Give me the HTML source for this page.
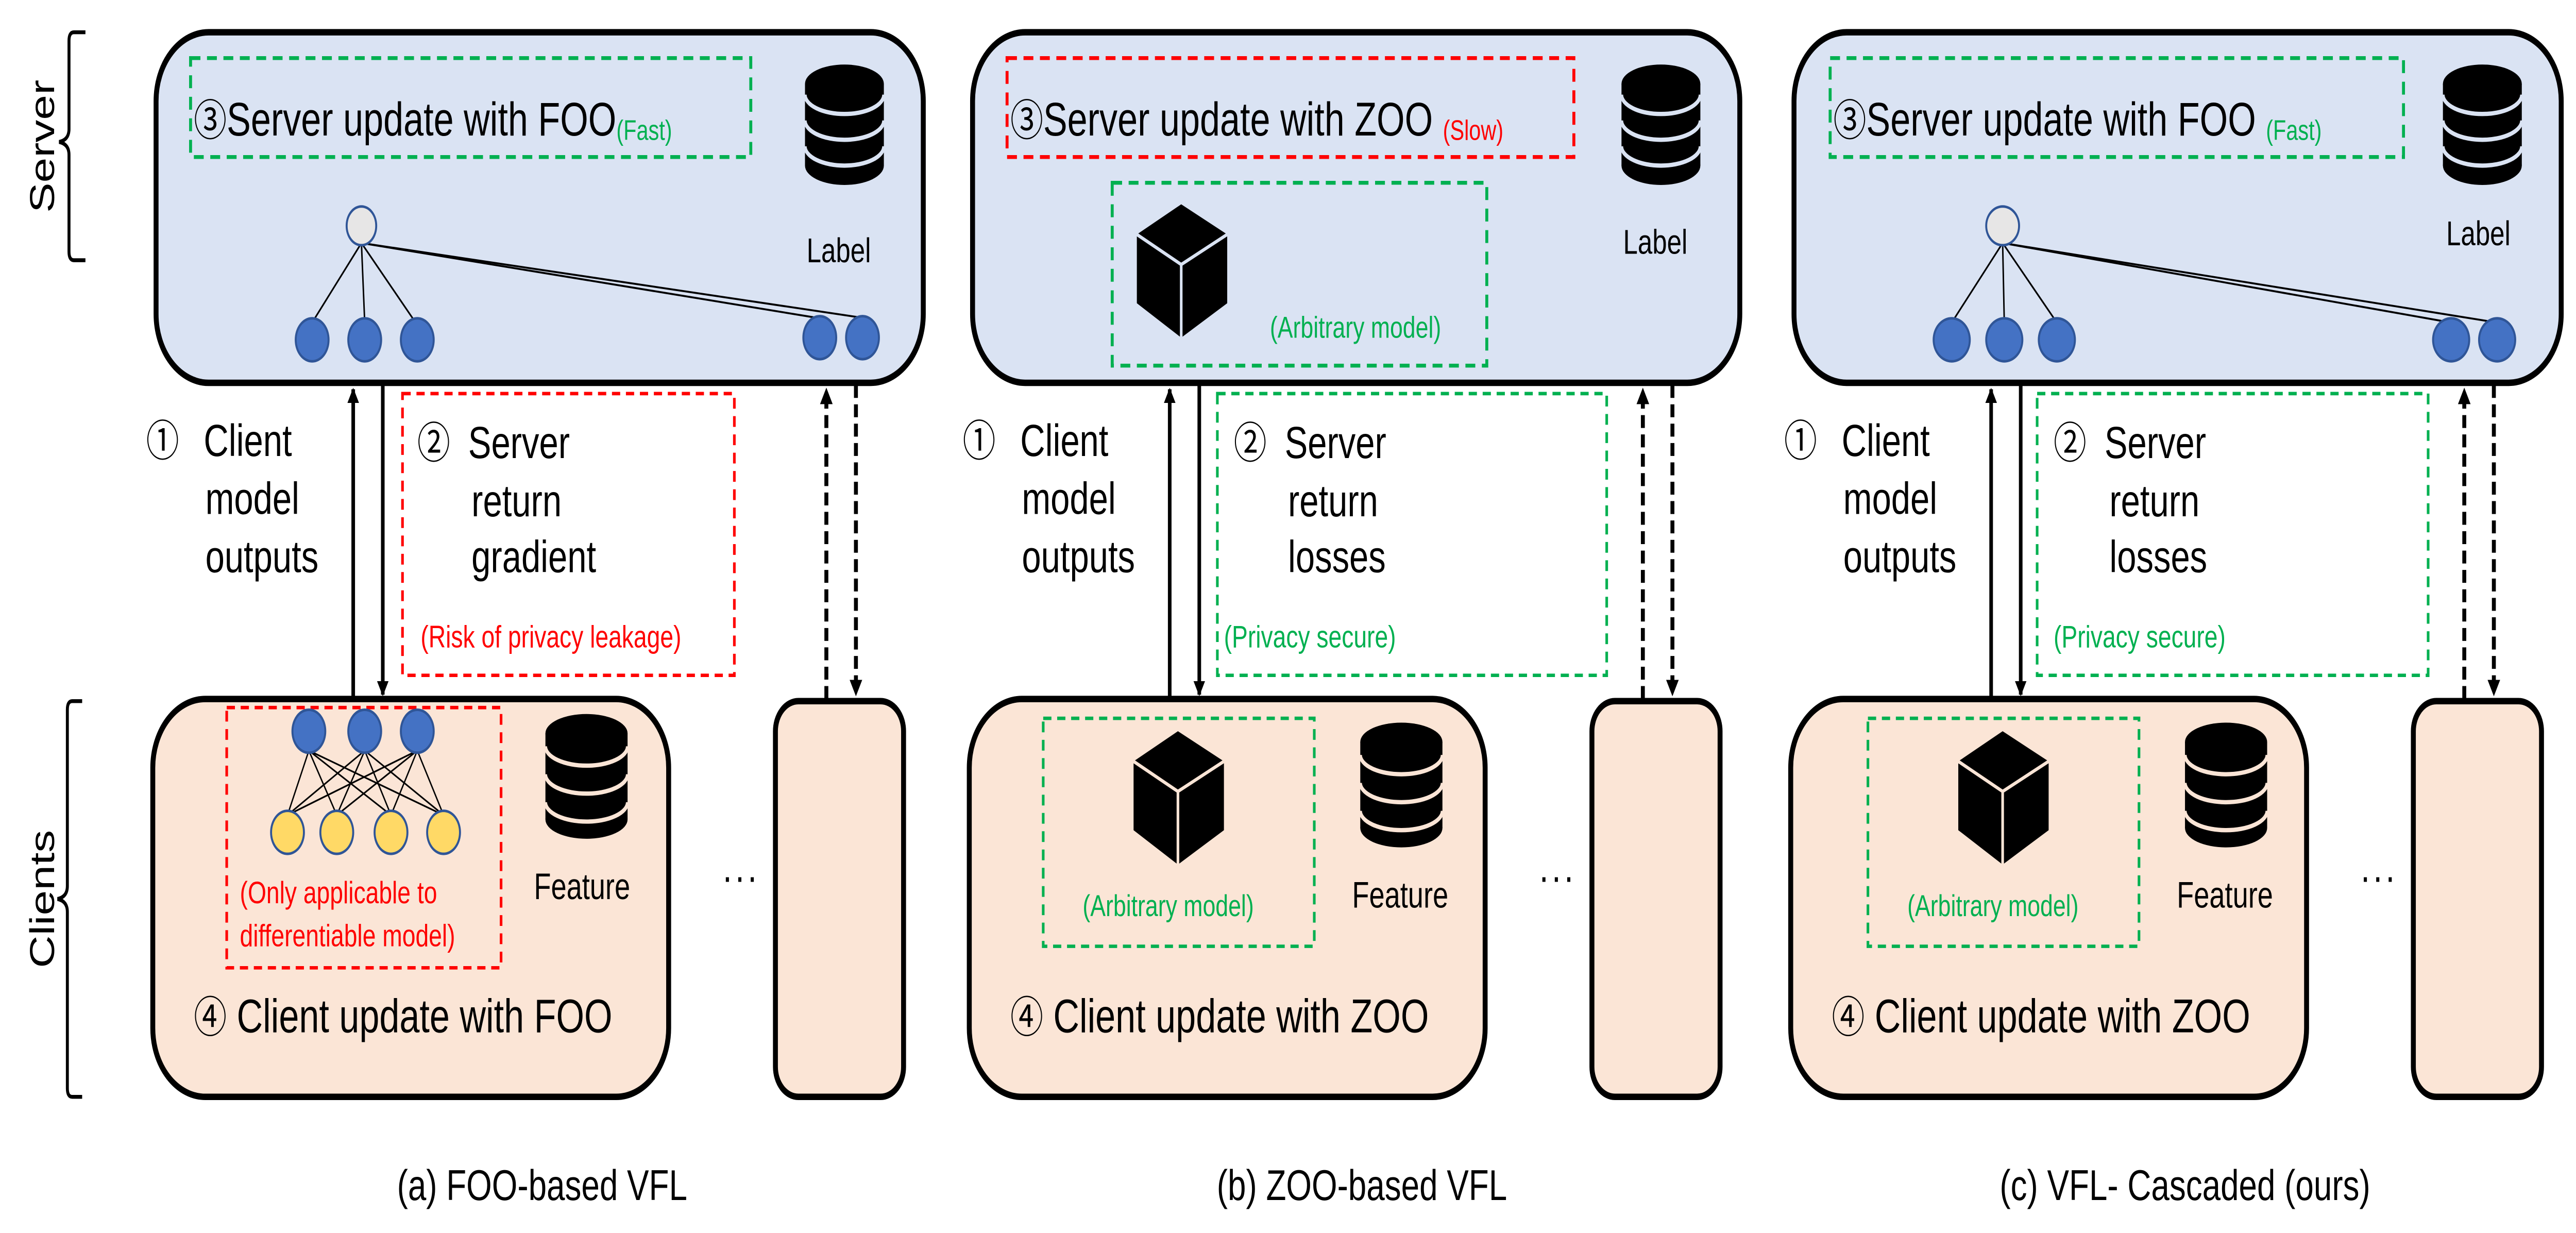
<!DOCTYPE html>
<html><head><meta charset="utf-8"><style>
html,body{margin:0;padding:0;background:#fff;width:100%;height:100%;overflow:hidden;}
svg{display:block;position:absolute;left:0;top:0;width:100vw;height:100vh;}
text{font-family:"Liberation Sans","Noto Sans CJK JP",sans-serif;}
.c{font-family:"Noto Sans CJK JP","DejaVu Sans",sans-serif;}
</style></head><body>
<svg xmlns="http://www.w3.org/2000/svg" viewBox="0 0 1568 573.3" preserveAspectRatio="none">
<defs>
<marker id="ah" viewBox="0 0 10 10" refX="9" refY="5" markerWidth="3.2" markerHeight="3.2" orient="auto-start-reverse"><path d="M0,0 L10,5 L0,10 z" fill="#000"/></marker>
<g id="dbL">
 <rect x="0" y="9" width="48" height="38" fill="#000"/>
 <ellipse cx="24" cy="47" rx="24" ry="9" fill="#000"/>
 <ellipse cx="24" cy="9" rx="24" ry="9" fill="#000"/>
 <path d="M0,14 A24,9 0 0 0 48,14" fill="none" stroke="#dae3f3" stroke-width="2"/>
 <path d="M0,26 A24,9 0 0 0 48,26" fill="none" stroke="#dae3f3" stroke-width="2"/>
 <path d="M0,38 A24,9 0 0 0 48,38" fill="none" stroke="#dae3f3" stroke-width="2"/>
</g>
<g id="dbF">
 <rect x="0" y="9" width="50" height="40" fill="#000"/>
 <ellipse cx="25" cy="49" rx="25" ry="9" fill="#000"/>
 <ellipse cx="25" cy="9" rx="25" ry="9" fill="#000"/>
 <path d="M0,15 A25,9 0 0 0 50,15" fill="none" stroke="#fbe5d6" stroke-width="2"/>
 <path d="M0,28 A25,9 0 0 0 50,28" fill="none" stroke="#fbe5d6" stroke-width="2"/>
 <path d="M0,41 A25,9 0 0 0 50,41" fill="none" stroke="#fbe5d6" stroke-width="2"/>
</g>
<g id="cubeS">
 <path d="M27,0 L55,14 L55,46 L27,62 L0,46 L0,14 z" fill="#000"/>
 <path d="M0,14 L27,28 L55,14 M27,28 L27,62" stroke="#dae3f3" stroke-width="1.6" fill="none"/>
</g>
<g id="cubeC">
 <path d="M27,0 L55,14 L55,46 L27,62 L0,46 L0,14 z" fill="#000"/>
 <path d="M0,14 L27,28 L55,14 M27,28 L27,62" stroke="#fbe5d6" stroke-width="1.6" fill="none"/>
</g>
<g id="common">
 <rect x="95" y="15" width="467" height="163" rx="32" fill="#dae3f3" stroke="#000" stroke-width="3"/>
 <rect x="93" y="325" width="314" height="185" rx="32" fill="#fbe5d6" stroke="#000" stroke-width="3"/>
 <rect x="472" y="326" width="78" height="184" rx="14" fill="#fbe5d6" stroke="#000" stroke-width="3"/>
 <line x1="215" y1="325" x2="215" y2="181" stroke="#000" stroke-width="2.2" marker-end="url(#ah)"/>
 <line x1="233" y1="179" x2="233" y2="323" stroke="#000" stroke-width="2.2" marker-end="url(#ah)"/>
 <line x1="503" y1="325" x2="503" y2="181" stroke="#000" stroke-width="2.4" stroke-dasharray="6,3" marker-end="url(#ah)"/>
 <line x1="521" y1="179" x2="521" y2="323" stroke="#000" stroke-width="2.4" stroke-dasharray="6,3" marker-end="url(#ah)"/>
 <text x="89" y="212" font-size="20" class="c">①</text>
 <text x="124" y="212" font-size="21">Client</text>
 <text x="125" y="239" font-size="21">model</text>
 <text x="125" y="266" font-size="21">outputs</text>
 <text x="440" y="410" font-size="20" letter-spacing="2">...</text>
</g>
</defs>

<path d="M52,15 L45,15 Q42,15 42,19 L42,60 Q42,65 36,66 Q42,67 42,72 L42,117 Q42,121 45,121 L52,121" fill="none" stroke="#000" stroke-width="1.8"/>
<text transform="translate(33,68) rotate(-90)" font-size="21" text-anchor="middle">Server</text>
<path d="M50,326 L44,326 Q41,326 41,330 L41,412 Q41,417 35,418 Q41,419 41,424 L41,506 Q41,510 44,510 L50,510" fill="none" stroke="#000" stroke-width="1.8"/>
<text transform="translate(33,418) rotate(-90)" font-size="21" text-anchor="middle">Clients</text>

<!-- Panel A -->
<use href="#common"/>
<rect x="116" y="27" width="341" height="46" fill="none" stroke="#00b050" stroke-width="1.8" stroke-dasharray="6,4"/>
<text x="118" y="63" font-size="22"><tspan class="c" font-size="20">③</tspan>Server update with FOO<tspan font-size="13" fill="#00b050" dy="2">(Fast)</tspan></text>
<use href="#dbL" x="490" y="30"/>
<text x="491" y="122" font-size="16">Label</text>
<g stroke="#000" stroke-width="0.9">
 <line x1="220" y1="113" x2="190" y2="150"/><line x1="220" y1="113" x2="222" y2="150"/><line x1="220" y1="113" x2="253" y2="150"/>
 <line x1="220" y1="113" x2="499" y2="148"/><line x1="220" y1="113" x2="527" y2="148"/>
</g>
<ellipse cx="220" cy="105" rx="9" ry="9" fill="#e7e6e6" stroke="#2f5597" stroke-width="1.2"/>
<g fill="#4472c4" stroke="#2f5597" stroke-width="1.2">
 <ellipse cx="190" cy="158" rx="10" ry="10"/><ellipse cx="222" cy="158" rx="10" ry="10"/><ellipse cx="254" cy="158" rx="10" ry="10"/>
 <ellipse cx="499" cy="157" rx="10" ry="10"/><ellipse cx="525" cy="157" rx="10" ry="10"/>
</g>
<rect x="245" y="183" width="202" height="131" fill="none" stroke="#ff0000" stroke-width="1.6" stroke-dasharray="5,3.5"/>
<text x="254" y="213" font-size="20" class="c">②</text>
<text x="285" y="213" font-size="21">Server</text>
<text x="287" y="240" font-size="21">return</text>
<text x="287" y="266" font-size="21">gradient</text>
<text x="256" y="301" font-size="14.5" fill="#ff0000">(Risk of privacy leakage)</text>
<rect x="138" y="329" width="167" height="121" fill="none" stroke="#ff0000" stroke-width="1.6" stroke-dasharray="5,3.5"/>
<g stroke="#000" stroke-width="0.8">
 <line x1="188" y1="349" x2="175" y2="379"/><line x1="188" y1="349" x2="205" y2="379"/><line x1="188" y1="349" x2="238" y2="379"/><line x1="188" y1="349" x2="270" y2="379"/>
 <line x1="222" y1="349" x2="175" y2="379"/><line x1="222" y1="349" x2="205" y2="379"/><line x1="222" y1="349" x2="238" y2="379"/><line x1="222" y1="349" x2="270" y2="379"/>
 <line x1="254" y1="349" x2="175" y2="379"/><line x1="254" y1="349" x2="205" y2="379"/><line x1="254" y1="349" x2="238" y2="379"/><line x1="254" y1="349" x2="270" y2="379"/>
</g>
<g fill="#4472c4" stroke="#2f5597" stroke-width="1.2">
 <ellipse cx="188" cy="340" rx="10" ry="10"/><ellipse cx="222" cy="340" rx="10" ry="10"/><ellipse cx="254" cy="340" rx="10" ry="10"/>
</g>
<g fill="#ffd966" stroke="#2f5597" stroke-width="1.2">
 <ellipse cx="175" cy="387" rx="10" ry="10"/><ellipse cx="205" cy="387" rx="10" ry="10"/><ellipse cx="238" cy="387" rx="10" ry="10"/><ellipse cx="270" cy="387" rx="10" ry="10"/>
</g>
<text x="146" y="420" font-size="14.5" fill="#ff0000">(Only applicable to</text>
<text x="146" y="440" font-size="14.5" fill="#ff0000">differentiable model)</text>
<use href="#dbF" x="332" y="332"/>
<text x="325" y="418" font-size="17">Feature</text>
<text x="118" y="480" font-size="22"><tspan class="c" font-size="20">④</tspan> Client update with FOO</text>
<text x="330" y="558" font-size="20" text-anchor="middle">(a) FOO-based VFL</text>

<!-- Panel B -->
<g transform="translate(497,0)">
<use href="#common"/>
<rect x="116" y="27" width="345" height="46" fill="none" stroke="#ff0000" stroke-width="1.8" stroke-dasharray="6,4"/>
<text x="118" y="63" font-size="22"><tspan class="c" font-size="20">③</tspan>Server update with ZOO <tspan font-size="13" fill="#ff0000" dy="2">(Slow)</tspan></text>
<rect x="180" y="85" width="228" height="85" fill="none" stroke="#00b050" stroke-width="1.8" stroke-dasharray="6,4"/>
<use href="#cubeS" x="195" y="95"/>
<text x="276" y="157" font-size="14" fill="#00b050">(Arbitrary model)</text>
<use href="#dbL" x="490" y="30"/>
<text x="491" y="118" font-size="16">Label</text>
<rect x="244" y="183" width="237" height="131" fill="none" stroke="#00b050" stroke-width="1.6" stroke-dasharray="5,3.5"/>
<text x="254" y="213" font-size="20" class="c">②</text>
<text x="285" y="213" font-size="21">Server</text>
<text x="287" y="240" font-size="21">return</text>
<text x="287" y="266" font-size="21">losses</text>
<text x="248" y="301" font-size="14.5" fill="#00b050">(Privacy secure)</text>
<rect x="138" y="334" width="165" height="106" fill="none" stroke="#00b050" stroke-width="1.6" stroke-dasharray="5,3.5"/>
<use href="#cubeC" x="193" y="340"/>
<text x="162" y="426" font-size="14" fill="#00b050">(Arbitrary model)</text>
<use href="#dbF" x="331" y="336"/>
<text x="326" y="422" font-size="17">Feature</text>
<text x="118" y="480" font-size="22"><tspan class="c" font-size="20">④</tspan> Client update with ZOO</text>
<text x="332" y="558" font-size="20" text-anchor="middle">(b) ZOO-based VFL</text>
</g>

<!-- Panel C -->
<g transform="translate(997,0)">
<use href="#common"/>
<rect x="117" y="27" width="349" height="46" fill="none" stroke="#00b050" stroke-width="1.8" stroke-dasharray="6,4"/>
<text x="119" y="63" font-size="22"><tspan class="c" font-size="20">③</tspan>Server update with FOO <tspan font-size="13" fill="#00b050" dy="2">(Fast)</tspan></text>
<use href="#dbL" x="490" y="30"/>
<text x="492" y="114" font-size="16">Label</text>
<g stroke="#000" stroke-width="0.9">
 <line x1="222" y1="113" x2="191" y2="150"/><line x1="222" y1="113" x2="223" y2="150"/><line x1="222" y1="113" x2="255" y2="150"/>
 <line x1="222" y1="113" x2="495" y2="150"/><line x1="222" y1="113" x2="523" y2="150"/>
</g>
<ellipse cx="222" cy="105" rx="10" ry="9" fill="#e7e6e6" stroke="#2f5597" stroke-width="1.2"/>
<g fill="#4472c4" stroke="#2f5597" stroke-width="1.2">
 <ellipse cx="191" cy="158" rx="11" ry="10"/><ellipse cx="223" cy="158" rx="11" ry="10"/><ellipse cx="255" cy="158" rx="11" ry="10"/>
 <ellipse cx="495" cy="158" rx="11" ry="10"/><ellipse cx="523" cy="158" rx="11" ry="10"/>
</g>
<rect x="243" y="183" width="238" height="131" fill="none" stroke="#00b050" stroke-width="1.6" stroke-dasharray="5,3.5"/>
<text x="253" y="213" font-size="20" class="c">②</text>
<text x="284" y="213" font-size="21">Server</text>
<text x="287" y="240" font-size="21">return</text>
<text x="287" y="266" font-size="21">losses</text>
<text x="253" y="301" font-size="14.5" fill="#00b050">(Privacy secure)</text>
<rect x="140" y="334" width="165" height="106" fill="none" stroke="#00b050" stroke-width="1.6" stroke-dasharray="5,3.5"/>
<use href="#cubeC" x="195" y="340"/>
<text x="164" y="426" font-size="14" fill="#00b050">(Arbitrary model)</text>
<use href="#dbF" x="333" y="336"/>
<text x="328" y="422" font-size="17">Feature</text>
<text x="118" y="480" font-size="22"><tspan class="c" font-size="20">④</tspan> Client update with ZOO</text>
<text x="333" y="558" font-size="20" text-anchor="middle">(c) VFL- Cascaded (ours)</text>
</g>
</svg>
</body></html>
